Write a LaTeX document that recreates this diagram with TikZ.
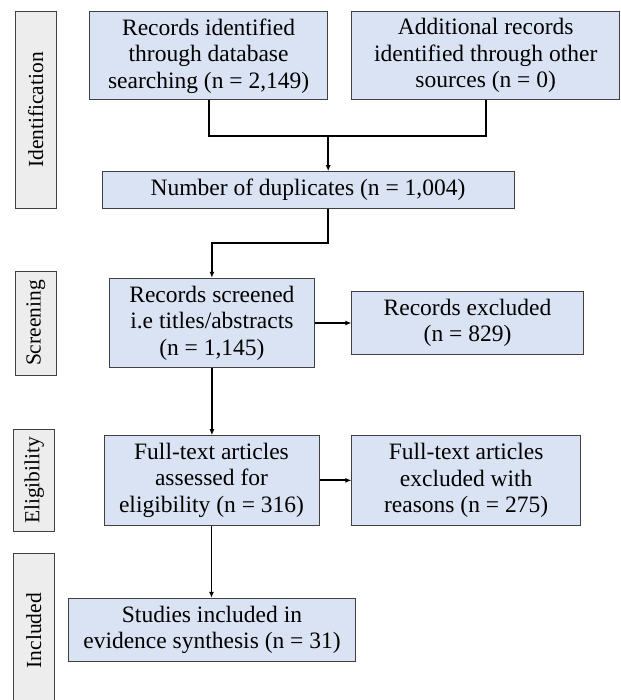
\documentclass[tikz,border=0pt]{standalone}
\usepackage{fontspec}
\setmainfont{Liberation Serif}
\usetikzlibrary{arrows.meta}
\definecolor{boxblue}{HTML}{DAE3F3}
\definecolor{labgray}{HTML}{EDEDED}
\definecolor{edgegray}{HTML}{404040}
\tikzset{
  flowbox/.style={draw=edgegray, line width=1pt, fill=boxblue, inner sep=0pt, align=center,
    font=\fontsize{23.5}{26.5}\selectfont},
  sidebox/.style={draw=edgegray, line width=1pt, fill=labgray, inner sep=0pt, rotate=90,
    font=\fontsize{21.5}{24}\selectfont},
  conn/.style={line width=1.8pt, draw=black},
  arr/.style={conn, -{Latex[length=6pt,width=5pt]}},
}
\begin{document}
\begin{tikzpicture}[x=1pt,y=-1pt]
\useasboundingbox (0,0) rectangle (620,700);
% side labels
\node[sidebox, minimum width=196.6pt, minimum height=41.5pt] (ident) at (35.75,110) {Identification};
\node[sidebox, minimum width=104pt, minimum height=41.5pt] (scrlab) at (35.75,323) {Screening};
\node[sidebox, minimum width=102.7pt, minimum height=40.8pt] (eliglab) at (34.2,480.35) {Eligibility};
\begin{scope}
\clip (0,0) rectangle (620,700);
\node[sidebox, minimum width=154.7pt, minimum height=41.6pt] (incllab) at (33.8,630.65) {Included};
\end{scope}
% flow boxes
\node[flowbox, minimum width=237.6pt, minimum height=88.3pt] (b1) at (208.6,55.85)
  {Records identified\\through database\\searching (n = 2,149)};
\node[flowbox, minimum width=267.6pt, minimum height=88.3pt] (b2) at (485.7,55.85)
  {Additional records\\identified through other\\sources (n = 0)};
\node[flowbox, minimum width=412pt, minimum height=36.6pt] (dup) at (308,190)
  {Number of duplicates (n = 1,004)};
\node[flowbox, minimum width=204.8pt, minimum height=89.4pt] (scr) at (211.9,323)
  {Records screened\\i.e titles/abstracts\\(n = 1,145)};
\node[flowbox, minimum width=231.3pt, minimum height=62.6pt] (exc) at (467.55,323)
  {Records excluded\\(n = 829)};
\node[flowbox, minimum width=215pt, minimum height=89.3pt] (ft) at (211.5,480.35)
  {Full-text articles\\assessed for\\eligibility (n = 316)};
\node[flowbox, minimum width=228.5pt, minimum height=89.3pt] (ftx) at (466.15,480.35)
  {Full-text articles\\excluded with\\reasons (n = 275)};
\node[flowbox, minimum width=287.9pt, minimum height=63.4pt] (st) at (212,630)
  {Studies included in\\evidence synthesis (n = 31)};
% connectors
\coordinate (j1) at (328.2,136);
\coordinate (j2) at (328.2,242.7);
\draw[conn] (b1.south) |- (j1) -| (b2.south);
\draw[arr] (j1) -- (j1 |- dup.north);
\draw[arr] (j2 |- dup.south) -- (j2) -| (scr.north);
\draw[arr] (scr.east) -- (exc.west);
\draw[arr] (scr.south) -- (scr.south |- ft.north);
\draw[arr] (ft.east) -- (ftx.west);
\draw[arr] (ft.south) -- (ft.south |- st.north);
\end{tikzpicture}
\end{document}
